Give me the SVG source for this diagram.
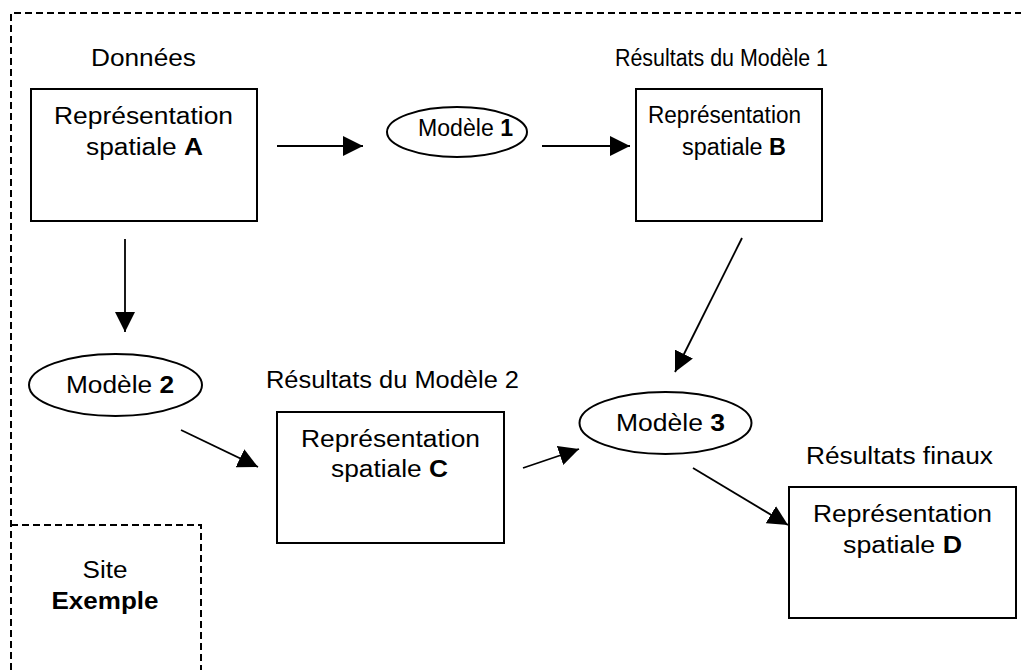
<svg xmlns="http://www.w3.org/2000/svg" width="1021" height="670" viewBox="0 0 1021 670">
<style>
text{font-family:"Liberation Sans",Arial,sans-serif;font-size:23px;fill:#000;text-anchor:middle}
.b{font-weight:bold}
.box{fill:#fff;stroke:#000;stroke-width:2}
.ell{fill:#fff;stroke:#000;stroke-width:2}
.dash{fill:none;stroke:#000;stroke-width:2;stroke-dasharray:7 4}
.con{stroke:#000;stroke-width:1.8;fill:none;marker-end:url(#ah)}
</style>
<defs>
<marker id="ah" viewBox="0 0 20 20" refX="20" refY="10" markerWidth="20" markerHeight="20" markerUnits="userSpaceOnUse" orient="auto">
<path d="M0,0 L20,10 L0,20 Z" fill="#000"/>
</marker>
</defs>
<rect width="1021" height="670" fill="#fff"/>
<g id="frame">
<path class="dash" d="M11,670 V13 H1030"/>
</g>
<g id="site">
<path class="dash" d="M11,525 H201 V670"/>
<text x="105" y="578" textLength="45" lengthAdjust="spacingAndGlyphs">Site</text>
<text class="b" x="105" y="609" textLength="107" lengthAdjust="spacingAndGlyphs">Exemple</text>
</g>
<g id="nodeA">
<text x="143.5" y="66" textLength="105" lengthAdjust="spacingAndGlyphs">Données</text>
<rect class="box" x="31" y="89" width="226" height="132"/>
<text x="143.5" y="124" textLength="179" lengthAdjust="spacingAndGlyphs">Représentation</text>
<text x="144.5" y="155" textLength="117" lengthAdjust="spacingAndGlyphs">spatiale <tspan class="b">A</tspan></text>
</g>
<g id="model1">
<ellipse class="ell" cx="457" cy="132" rx="70" ry="25"/>
<text x="465.5" y="136" textLength="95" lengthAdjust="spacingAndGlyphs">Modèle <tspan class="b">1</tspan></text>
</g>
<g id="nodeB">
<text x="721.5" y="66" textLength="213" lengthAdjust="spacingAndGlyphs">Résultats du Modèle 1</text>
<rect class="box" x="636" y="89" width="186" height="132"/>
<text x="724.5" y="123" textLength="153" lengthAdjust="spacingAndGlyphs">Représentation</text>
<text x="734" y="155" textLength="104" lengthAdjust="spacingAndGlyphs">spatiale <tspan class="b">B</tspan></text>
</g>
<g id="model2">
<ellipse class="ell" cx="115.5" cy="385" rx="86.5" ry="31"/>
<text x="120" y="393" textLength="108" lengthAdjust="spacingAndGlyphs">Modèle <tspan class="b">2</tspan></text>
</g>
<g id="nodeC">
<text x="392.5" y="388" textLength="253" lengthAdjust="spacingAndGlyphs">Résultats du Modèle 2</text>
<rect class="box" x="277" y="412" width="227" height="131"/>
<text x="390.5" y="447" textLength="179" lengthAdjust="spacingAndGlyphs">Représentation</text>
<text x="389.5" y="477" textLength="117" lengthAdjust="spacingAndGlyphs">spatiale <tspan class="b">C</tspan></text>
</g>
<g id="model3">
<ellipse class="ell" cx="665.5" cy="423" rx="86" ry="31"/>
<text x="670.5" y="431" textLength="109" lengthAdjust="spacingAndGlyphs">Modèle <tspan class="b">3</tspan></text>
</g>
<g id="nodeD">
<text x="899.5" y="464" textLength="187" lengthAdjust="spacingAndGlyphs">Résultats finaux</text>
<rect class="box" x="789" y="487" width="227" height="131"/>
<text x="902.5" y="522" textLength="179" lengthAdjust="spacingAndGlyphs">Représentation</text>
<text x="902.5" y="553" textLength="119" lengthAdjust="spacingAndGlyphs">spatiale <tspan class="b">D</tspan></text>
</g>
<g id="connectors">
<line class="con" x1="277" y1="146" x2="363" y2="146"/>
<line class="con" x1="542" y1="146" x2="630" y2="146"/>
<line class="con" x1="125" y1="239" x2="125" y2="332"/>
<line class="con" x1="742" y1="238" x2="675" y2="372"/>
<line class="con" x1="181" y1="430" x2="258" y2="467"/>
<line class="con" x1="523" y1="468" x2="579" y2="449"/>
<line class="con" x1="693" y1="468" x2="788" y2="525"/>
</g>
</svg>
